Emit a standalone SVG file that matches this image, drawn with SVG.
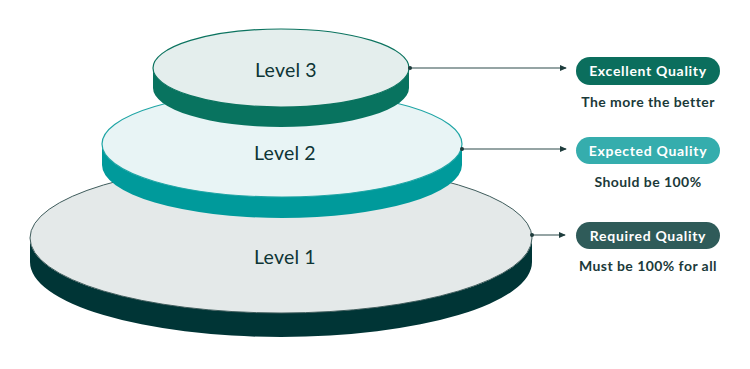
<svg xmlns="http://www.w3.org/2000/svg" width="750" height="369" viewBox="0 0 750 369">
<defs>
<style>
.lvl{font-family:Lato,"Liberation Sans",sans-serif;font-size:19.5px;fill:#0e3535;text-anchor:middle;letter-spacing:0.2px}
.pill{font-family:Lato,"Liberation Sans",sans-serif;font-size:14px;font-weight:bold;fill:#ffffff;text-anchor:middle;letter-spacing:0.7px}
.sub{font-family:Lato,"Liberation Sans",sans-serif;font-size:14px;font-weight:bold;fill:#1b3a3a;text-anchor:middle;letter-spacing:0.45px}
.conn{stroke:#2d4b4b;stroke-width:1.1;fill:none}
.dot{fill:#1e3c3c}
</style>
<marker id="arr" viewBox="0 0 8 8" refX="7" refY="4" markerWidth="7" markerHeight="7" markerUnits="userSpaceOnUse" orient="auto">
<path d="M0,0.5 L8,4 L0,7.5 Z" fill="#1e3c3c"/>
</marker>
</defs>
<rect width="750" height="369" fill="#ffffff"/>

<g id="level1">
<path d="M30,238 A251,75 0 0 0 532,238 L532,262 A251,75 0 0 1 30,262 Z" fill="#003536"/>
<ellipse cx="281" cy="238" rx="251" ry="75" fill="#e4e9e9" stroke="#3f5c5c" stroke-width="1"/>
<text class="lvl" x="285" y="264">Level 1</text>
</g>

<g id="level2">
<path d="M102,144 A180,53 0 0 0 462,144 L462,165 A180,53 0 0 1 102,165 Z" fill="#009a9b"/>
<ellipse cx="282" cy="144" rx="180" ry="53" fill="#e8f4f5" stroke="#1fa5a5" stroke-width="1.2"/>
<text class="lvl" x="285" y="159.5">Level 2</text>
</g>

<g id="level3">
<path d="M153,68 A128,39 0 0 0 409,68 L409,88 A128,39 0 0 1 153,88 Z" fill="#08735f"/>
<ellipse cx="281" cy="68" rx="128" ry="39" fill="#e4eeed" stroke="#0b735f" stroke-width="1.2"/>
<text class="lvl" x="286" y="77">Level 3</text>
</g>

<g id="connectors">
<line class="conn" x1="410" y1="68" x2="566" y2="68" marker-end="url(#arr)"/>
<circle class="dot" cx="410" cy="68" r="2"/>
<line class="conn" x1="462" y1="149" x2="566" y2="149" marker-end="url(#arr)"/>
<circle class="dot" cx="462" cy="149" r="2"/>
<line class="conn" x1="532" y1="235" x2="565" y2="235" marker-end="url(#arr)"/>
<circle class="dot" cx="532" cy="235" r="2"/>
</g>

<g id="excellent">
<rect x="576" y="57" width="144" height="28" rx="14" fill="#0b6e5d"/>
<text class="pill" x="648" y="76">Excellent Quality</text>
<text class="sub" x="648" y="107">The more the better</text>
</g>

<g id="expected">
<rect x="576" y="137" width="144" height="27" rx="13.5" fill="#35adad"/>
<text class="pill" x="648" y="155.5">Expected Quality</text>
<text class="sub" x="648" y="187">Should be 100%</text>
</g>

<g id="required">
<rect x="576" y="222" width="144" height="27" rx="13.5" fill="#2f5b59"/>
<text class="pill" x="648" y="240.5">Required Quality</text>
<text class="sub" x="648" y="271">Must be 100% for all</text>
</g>
</svg>
